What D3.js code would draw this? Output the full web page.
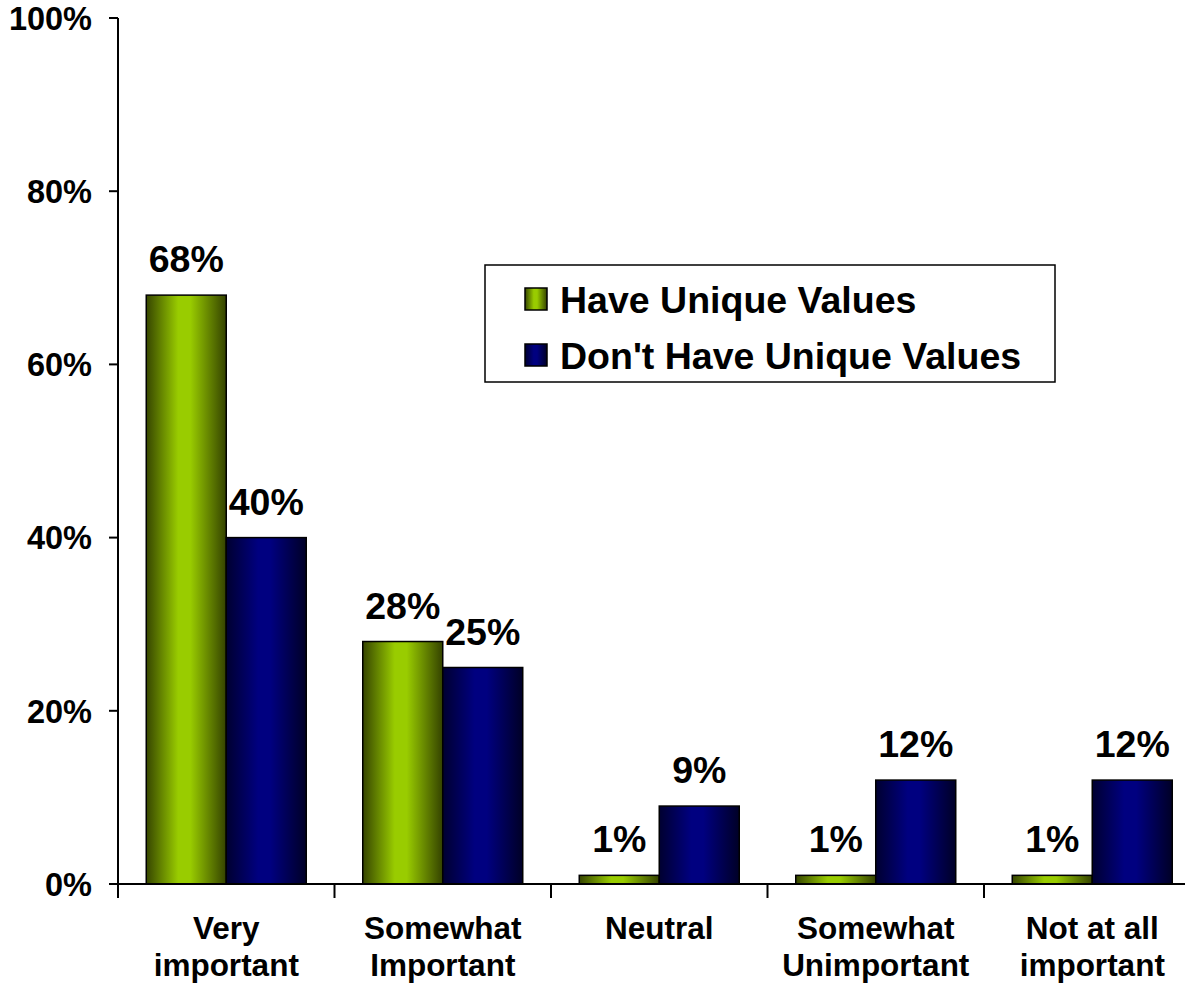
<!DOCTYPE html>
<html>
<head>
<meta charset="utf-8">
<script src="https://cdn.jsdelivr.net/npm/d3@7"></script>
<style>
  html, body { margin: 0; padding: 0; background: #fff; }
  svg { display: block; font-family: "Liberation Sans", Arial, sans-serif; font-weight: bold; }
</style>
</head>
<body>
<svg id="chart" width="1185" height="984"></svg>
<script>
(() => {
  // data
  const categories = [['Very', 'important'], ['Somewhat', 'Important'], ['Neutral'], ['Somewhat', 'Unimportant'], ['Not at all', 'important']];
  const seriesNames = ['Have Unique Values', "Don't Have Unique Values"];
  const haveValues = [68, 28, 1, 1, 1];
  const dontHaveValues = [40, 25, 9, 12, 12];
  const yTicks = [0, 20, 40, 60, 80, 100];

  const series = [haveValues, dontHaveValues];
  const gradIds = ['gradGreen', 'gradBlue'];

  const svg = d3.select('#chart');
  const W = 1185;

  const left = 118;
  const top = 18;
  const bottom = 884;
  const step = 216.5;

  const y = d3.scaleLinear().domain([0, 100]).range([bottom, top]);
  const x0 = d3.scaleBand()
    .domain(d3.range(categories.length))
    .range([left, left + step * categories.length])
    .paddingInner(0.261)
    .paddingOuter(0.1305);
  const x1 = d3.scaleBand().domain(d3.range(series.length)).range([0, x0.bandwidth()]);

  // gradients for the bars
  const defs = svg.append('defs');
  const gradStops = [
    [['0%', '#364500'], ['40%', '#99cc00'], ['55%', '#99cc00'], ['100%', '#344200']],
    [['0%', '#000030'], ['40%', '#000080'], ['55%', '#000080'], ['100%', '#000026']]
  ];
  gradStops.forEach((stops, i) => {
    const lg = defs.append('linearGradient').attr('id', gradIds[i])
      .attr('x1', '0%').attr('x2', '100%').attr('y1', '0%').attr('y2', '0%');
    stops.forEach(([o, c]) => lg.append('stop').attr('offset', o).attr('stop-color', c));
  });

  // bars
  const groups = svg.append('g').selectAll('g')
    .data(categories.map((c, i) => i))
    .join('g')
    .attr('transform', (i) => `translate(${x0(i)},0)`);

  groups.selectAll('rect')
    .data((i) => series.map((s, k) => ({ k, v: s[i] })))
    .join('rect')
    .attr('x', (d) => x1(d.k))
    .attr('y', (d) => y(d.v))
    .attr('width', x1.bandwidth())
    .attr('height', (d) => bottom - y(d.v))
    .attr('fill', (d) => `url(#${gradIds[d.k]})`)
    .attr('stroke', '#000')
    .attr('stroke-width', 1.5);

  groups.selectAll('text.val')
    .data((i) => series.map((s, k) => ({ k, v: s[i] })))
    .join('text')
    .attr('class', 'val')
    .attr('x', (d) => x1(d.k) + x1.bandwidth() / 2)
    .attr('y', (d) => y(d.v) - 23)
    .attr('text-anchor', 'middle')
    .attr('font-size', 37.5)
    .text((d) => d.v + '%');

  // y axis
  const yAxis = svg.append('g');
  yAxis.append('line')
    .attr('x1', left).attr('x2', left)
    .attr('y1', top).attr('y2', bottom)
    .attr('stroke', '#000').attr('stroke-width', 2);
  yAxis.selectAll('line.tick')
    .data(yTicks)
    .join('line')
    .attr('class', 'tick')
    .attr('x1', left - 9).attr('x2', left)
    .attr('y1', (d) => y(d)).attr('y2', (d) => y(d))
    .attr('stroke', '#000').attr('stroke-width', 2);
  yAxis.selectAll('text')
    .data(yTicks)
    .join('text')
    .attr('x', left - 26)
    .attr('y', (d) => y(d))
    .attr('dy', '0.36em')
    .attr('text-anchor', 'end')
    .attr('font-size', 32.5)
    .text((d) => d + '%');

  // x axis
  const xAxis = svg.append('g');
  xAxis.append('line')
    .attr('x1', left).attr('x2', W)
    .attr('y1', bottom).attr('y2', bottom)
    .attr('stroke', '#000').attr('stroke-width', 2);
  const boundaries = d3.range(categories.length + 1).map((i) => left + i * x0.step());
  xAxis.selectAll('line.tick')
    .data(boundaries)
    .join('line')
    .attr('class', 'tick')
    .attr('x1', (d) => d).attr('x2', (d) => d)
    .attr('y1', bottom).attr('y2', bottom + 14)
    .attr('stroke', '#000').attr('stroke-width', 2);

  const catLabels = xAxis.selectAll('text')
    .data(categories)
    .join('text')
    .attr('x', (d, i) => x0(i) + x0.bandwidth() / 2)
    .attr('y', 939)
    .attr('text-anchor', 'middle')
    .attr('font-size', 31.5);
  catLabels.selectAll('tspan')
    .data((d) => d)
    .join('tspan')
    .attr('x', function () { return this.parentNode.getAttribute('x'); })
    .attr('dy', (d, j) => (j === 0 ? 0 : 37))
    .text((d) => d);

  // legend
  const legend = svg.append('g').attr('transform', 'translate(485,265)');
  legend.append('rect')
    .attr('width', 570).attr('height', 117)
    .attr('fill', '#fff').attr('stroke', '#000').attr('stroke-width', 1.5);
  const items = legend.selectAll('g')
    .data(seriesNames)
    .join('g')
    .attr('transform', (d, i) => `translate(40,${34 + i * 56})`);
  items.append('rect')
    .attr('x', 0).attr('y', -11)
    .attr('width', 22).attr('height', 22)
    .attr('fill', (d, i) => `url(#${gradIds[i]})`)
    .attr('stroke', '#000').attr('stroke-width', 1.5);
  items.append('text')
    .attr('x', 35)
    .attr('dy', '0.36em')
    .attr('font-size', 37.5)
    .text((d) => d);
})();
</script>
</body>
</html>
